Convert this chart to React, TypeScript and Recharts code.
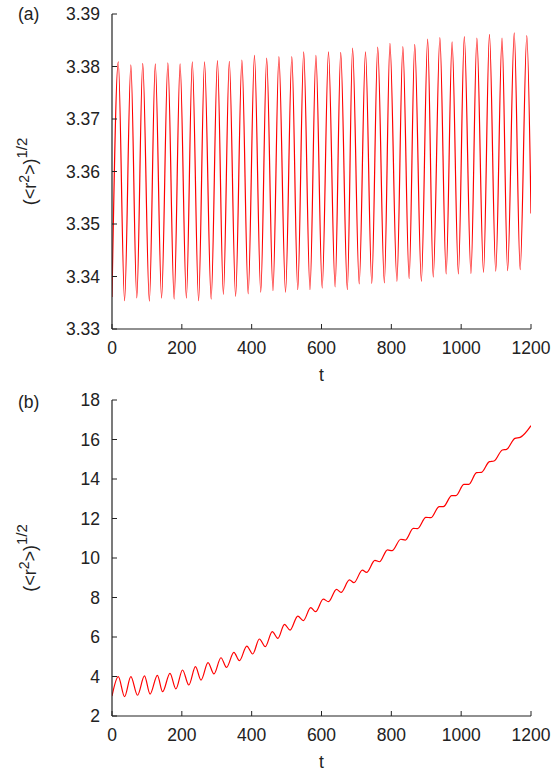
import { LineChart, Line, XAxis, YAxis } from "recharts";

// axis ticks
const tTicks = [0, 200, 400, 600, 800, 1000, 1200];
const rTicksA = [3.33, 3.34, 3.35, 3.36, 3.37, 3.38, 3.39];
const rTicksB = [2, 4, 6, 8, 10, 12, 14, 16, 18];

// panel (a): turning points of the oscillation
const tA = [
  0, 18, 36, 54, 71, 88, 107, 124, 142, 160, 178, 195, 213, 230, 248, 265, 284,
  302, 319, 336, 354, 372, 390, 408, 426, 443, 461, 478, 497, 515, 532, 549,
  567, 584, 602, 620, 639, 655, 674, 689, 708, 726, 744, 761, 780, 796, 816,
  833, 851, 867, 886, 904, 920, 939, 957, 974, 992, 1009, 1028, 1045, 1064,
  1081, 1099, 1117, 1133, 1152, 1169, 1188, 1200,
];
const rA = [
  3.3361, 3.3809, 3.3354, 3.3803, 3.3359, 3.3806, 3.3353, 3.3805, 3.3359,
  3.3807, 3.3357, 3.3805, 3.3359, 3.3809, 3.3354, 3.3809, 3.3357, 3.3811,
  3.3366, 3.381, 3.3362, 3.3812, 3.3367, 3.3821, 3.337, 3.3816, 3.3373,
  3.3819, 3.337, 3.3819, 3.3375, 3.3828, 3.3375, 3.3821, 3.3378, 3.3828,
  3.338, 3.3827, 3.3375, 3.3835, 3.3386, 3.3828, 3.3387, 3.3837, 3.3388,
  3.3844, 3.3391, 3.3838, 3.3396, 3.3842, 3.3391, 3.3852, 3.3399, 3.3855,
  3.3405, 3.3847, 3.3405, 3.3857, 3.3406, 3.3854, 3.3408, 3.3861, 3.341,
  3.3854, 3.3411, 3.3864, 3.3413, 3.3859, 3.352,
];

// panel (b)
const tB = [
  0, 18, 36, 54, 73, 93, 109, 130, 145, 166, 183, 202, 220, 239, 255, 275, 292,
  312, 328, 349, 365, 386, 403, 422, 439, 459, 475, 494, 510, 532, 548, 569,
  583, 605, 620, 643, 656, 680, 693, 717, 729, 753, 766, 789, 802, 827, 840,
  863, 875, 899, 913, 937, 949, 973, 985, 1008, 1022, 1044, 1058, 1081, 1094,
  1118, 1130, 1154, 1169, 1200,
];
const rB = [
  3.01, 3.99, 2.98, 3.99, 3.05, 4.03, 3.11, 4.06, 3.23, 4.16, 3.37, 4.33, 3.57,
  4.5, 3.82, 4.7, 4.13, 4.95, 4.46, 5.22, 4.8, 5.54, 5.14, 5.9, 5.51, 6.27,
  5.93, 6.64, 6.35, 7.06, 6.83, 7.49, 7.28, 7.92, 7.79, 8.41, 8.26, 8.89, 8.75,
  9.39, 9.27, 9.88, 9.81, 10.41, 10.37, 10.95, 10.91, 11.5, 11.49, 12.06,
  12.04, 12.6, 12.6, 13.16, 13.16, 13.73, 13.73, 14.32, 14.34, 14.88, 14.91,
  15.47, 15.5, 16.06, 16.11, 16.7,
];

const dataA = tA.map((t, i) => ({ t, r: rA[i] }));
const dataB = tB.map((t, i) => ({ t, r: rB[i] }));

const FONT = "'Liberation Sans', Arial, Helvetica, sans-serif";
const INK = "#222";
const tickStyle = { fontSize: 17.5, fill: INK, fontFamily: FONT };
const axisLine = { stroke: INK, strokeWidth: 1.2 };
const tickLine = { stroke: INK, strokeWidth: 1 };

function YLabel({ viewBox }: any) {
  const cx = viewBox.x + 36;
  const cy = viewBox.y + viewBox.height / 2;
  return (
    <text
      transform={`translate(${cx},${cy}) rotate(-90)`}
      textAnchor="middle"
      fontFamily={FONT}
      fontSize={18}
      fill={INK}
    >
      (&lt;r
      <tspan dy={-7.5} fontSize={14}>2</tspan>
      <tspan dy={7.5}>&gt;)</tspan>
      <tspan dy={-9} fontSize={15}>1/2</tspan>
    </text>
  );
}

function TLabel({ viewBox }: any) {
  return (
    <text
      x={viewBox.x + viewBox.width / 2}
      y={viewBox.y + 52}
      textAnchor="middle"
      fontFamily={FONT}
      fontSize={17.5}
      fill={INK}
    >
      t
    </text>
  );
}

function Panel({ data, yTicks, yDomain, fmt, height, top }: any) {
  return (
    <div style={{ position: "absolute", left: 0, top }}>
      <LineChart
        width={557}
        height={height}
        data={data}
        margin={{ top: top === 0 ? 14 : 15, right: 26, bottom: top === 0 ? 16 : 15, left: 0 }}
      >
        <XAxis
          dataKey="t"
          type="number"
          domain={[0, 1200]}
          ticks={tTicks}
          interval={0}
          allowDataOverflow
          height={40}
          tickSize={-5}
          tickMargin={18}
          tick={tickStyle}
          axisLine={axisLine}
          tickLine={tickLine}
          label={<TLabel />}
        />
        <XAxis
          xAxisId="top"
          orientation="top"
          type="number"
          domain={[0, 1200]}
          ticks={tTicks}
          interval={0}
          allowDataOverflow
          height={0}
          tickSize={-5}
          tick={false}
          axisLine={axisLine}
          tickLine={tickLine}
        />
        <YAxis
          type="number"
          domain={yDomain}
          ticks={yTicks}
          interval={0}
          allowDataOverflow
          width={112}
          tickSize={-5}
          tickMargin={17}
          tick={tickStyle}
          tickFormatter={fmt}
          axisLine={axisLine}
          tickLine={tickLine}
          label={<YLabel />}
        />
        <YAxis
          yAxisId="right"
          orientation="right"
          type="number"
          domain={yDomain}
          ticks={yTicks}
          interval={0}
          allowDataOverflow
          width={0}
          tickSize={-5}
          tick={false}
          axisLine={axisLine}
          tickLine={tickLine}
        />
        <Line
          type="monotone"
          dataKey="r"
          stroke="#ff0000"
          strokeWidth={1.2}
          dot={false}
          isAnimationActive={false}
        />
      </LineChart>
    </div>
  );
}

export default function App() {
  return (
    <div
      style={{
        position: "absolute",
        left: 0,
        top: 0,
        width: 557,
        height: 771,
        background: "#fff",
        overflow: "hidden",
      }}
    >
      <Panel
        data={dataA}
        yTicks={rTicksA}
        yDomain={[3.33, 3.39]}
        fmt={(v: number) => v.toFixed(2)}
        height={385}
        top={0}
      />
      <Panel
        data={dataB}
        yTicks={rTicksB}
        yDomain={[2, 18]}
        fmt={(v: number) => String(v)}
        height={386}
        top={385}
      />
      <svg
        width={557}
        height={771}
        style={{ position: "absolute", left: 0, top: 0, pointerEvents: "none" }}
      >
        <text x={18} y={20} fontFamily={FONT} fontSize={17.5} fill={INK}>
          (a)
        </text>
        <text x={18} y={408} fontFamily={FONT} fontSize={17.5} fill={INK}>
          (b)
        </text>
      </svg>
    </div>
  );
}
